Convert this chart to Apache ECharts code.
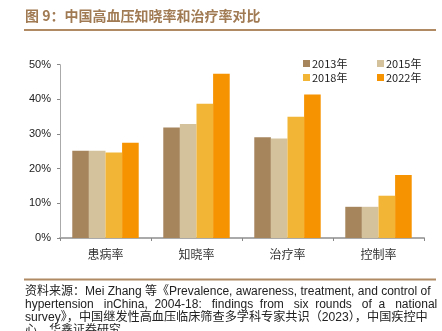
<!DOCTYPE html>
<html><head><meta charset="utf-8">
<script src="https://cdn.jsdelivr.net/npm/echarts@6/dist/echarts.min.js"></script>
<style>html,body{margin:0;padding:0;background:#fff}#c{width:442px;height:331px}</style>
</head><body><div id="c"></div>
<script>
var categories = ['患病率', '知晓率', '治疗率', '控制率'];
var years = ['2013年', '2015年', '2018年', '2022年'];
var v2013 = [25.2, 31.9, 29.1, 9.0];
var v2015 = [25.2, 32.9, 28.7, 9.0];
var v2018 = [24.7, 38.7, 35.0, 12.2];
var v2022 = [27.5, 47.4, 41.4, 18.2];
var yTicks = [0, 10, 20, 30, 40, 50];
var colors = ['#A6845C', '#D4C29C', '#F2B535', '#F59300'];
var titleText = '图 9：中国高血压知晓率和治疗率对比';
var sourceLines = [
  '资料来源：Mei Zhang 等《Prevalence, awareness, treatment, and control of',
  'hypertension   inChina,  2004-18:   findings  from   six  rounds   of  a   national',
  'survey》，中国继发性高血压临床筛查多学科专家共识（2023），中国疾控中',
  '心，华鑫证券研究'
];
var seriesVals = [v2013, v2015, v2018, v2022];

var chart = echarts.init(document.getElementById('c'), null, {renderer: 'canvas'});
var cjk = '"Noto Sans CJK SC", "Liberation Sans", sans-serif';
var graphics = [
  {type: 'line', shape: {x1: 24, y1: 30, x2: 436, y2: 30}, style: {stroke: '#B08A62', lineWidth: 2}},
  {type: 'line', shape: {x1: 24, y1: 279.5, x2: 436, y2: 279.5}, style: {stroke: '#B08A62', lineWidth: 2}},
  {type: 'text', x: 25, y: 16, style: {text: titleText, fill: '#A07A52', verticalAlign: 'middle', font: 'bold 14px ' + cjk}}
];
var sizes = [12, 12, 12.15, 12];
sourceLines.forEach(function (t, i) {
  graphics.push({type: 'text', x: 25, y: 292 + i * 13,
    style: {text: t, fill: '#222', verticalAlign: 'middle',
      font: sizes[i] + 'px "Liberation Sans", "Noto Sans CJK SC", sans-serif'}});
});

chart.setOption({
  animation: false,
  color: colors,
  grid: {left: 60, right: 18, top: 64.7, bottom: 93},
  legend: [
    {data: [years[0], years[2]], orient: 'vertical', left: 298, top: 53, itemWidth: 7, itemHeight: 7, itemGap: 3,
     icon: 'rect', textStyle: {fontSize: 11, color: '#222', fontFamily: cjk, padding: [0, 0, 0, -3]}},
    {data: [years[1], years[3]], orient: 'vertical', left: 372, top: 53, itemWidth: 7, itemHeight: 7, itemGap: 3,
     icon: 'rect', textStyle: {fontSize: 11, color: '#222', fontFamily: cjk, padding: [0, 0, 0, -3]}}
  ],
  xAxis: {
    type: 'category', data: categories,
    axisLine: {lineStyle: {color: '#AAAAAA', width: 2}},
    axisTick: {show: true, length: 3, lineStyle: {color: '#888'}},
    axisLabel: {fontSize: 12, color: '#333', fontFamily: cjk, margin: 10}
  },
  yAxis: {
    type: 'value', min: yTicks[0], max: yTicks[yTicks.length - 1], interval: 10,
    axisLine: {show: true, lineStyle: {color: '#AAAAAA', width: 1}},
    axisTick: {show: true, length: 3, lineStyle: {color: '#888'}},
    splitLine: {show: false},
    axisLabel: {fontSize: 11, color: '#222', fontFamily: '"Liberation Sans", sans-serif', margin: 9,
      formatter: function (v) { return v + '%'; }}
  },
  series: years.map(function (y, i) {
    return {name: y, type: 'bar', data: seriesVals[i], barGap: '0%', barCategoryGap: '27%',
      itemStyle: {color: colors[i]}};
  }),
  graphic: graphics
});
</script></body></html>
